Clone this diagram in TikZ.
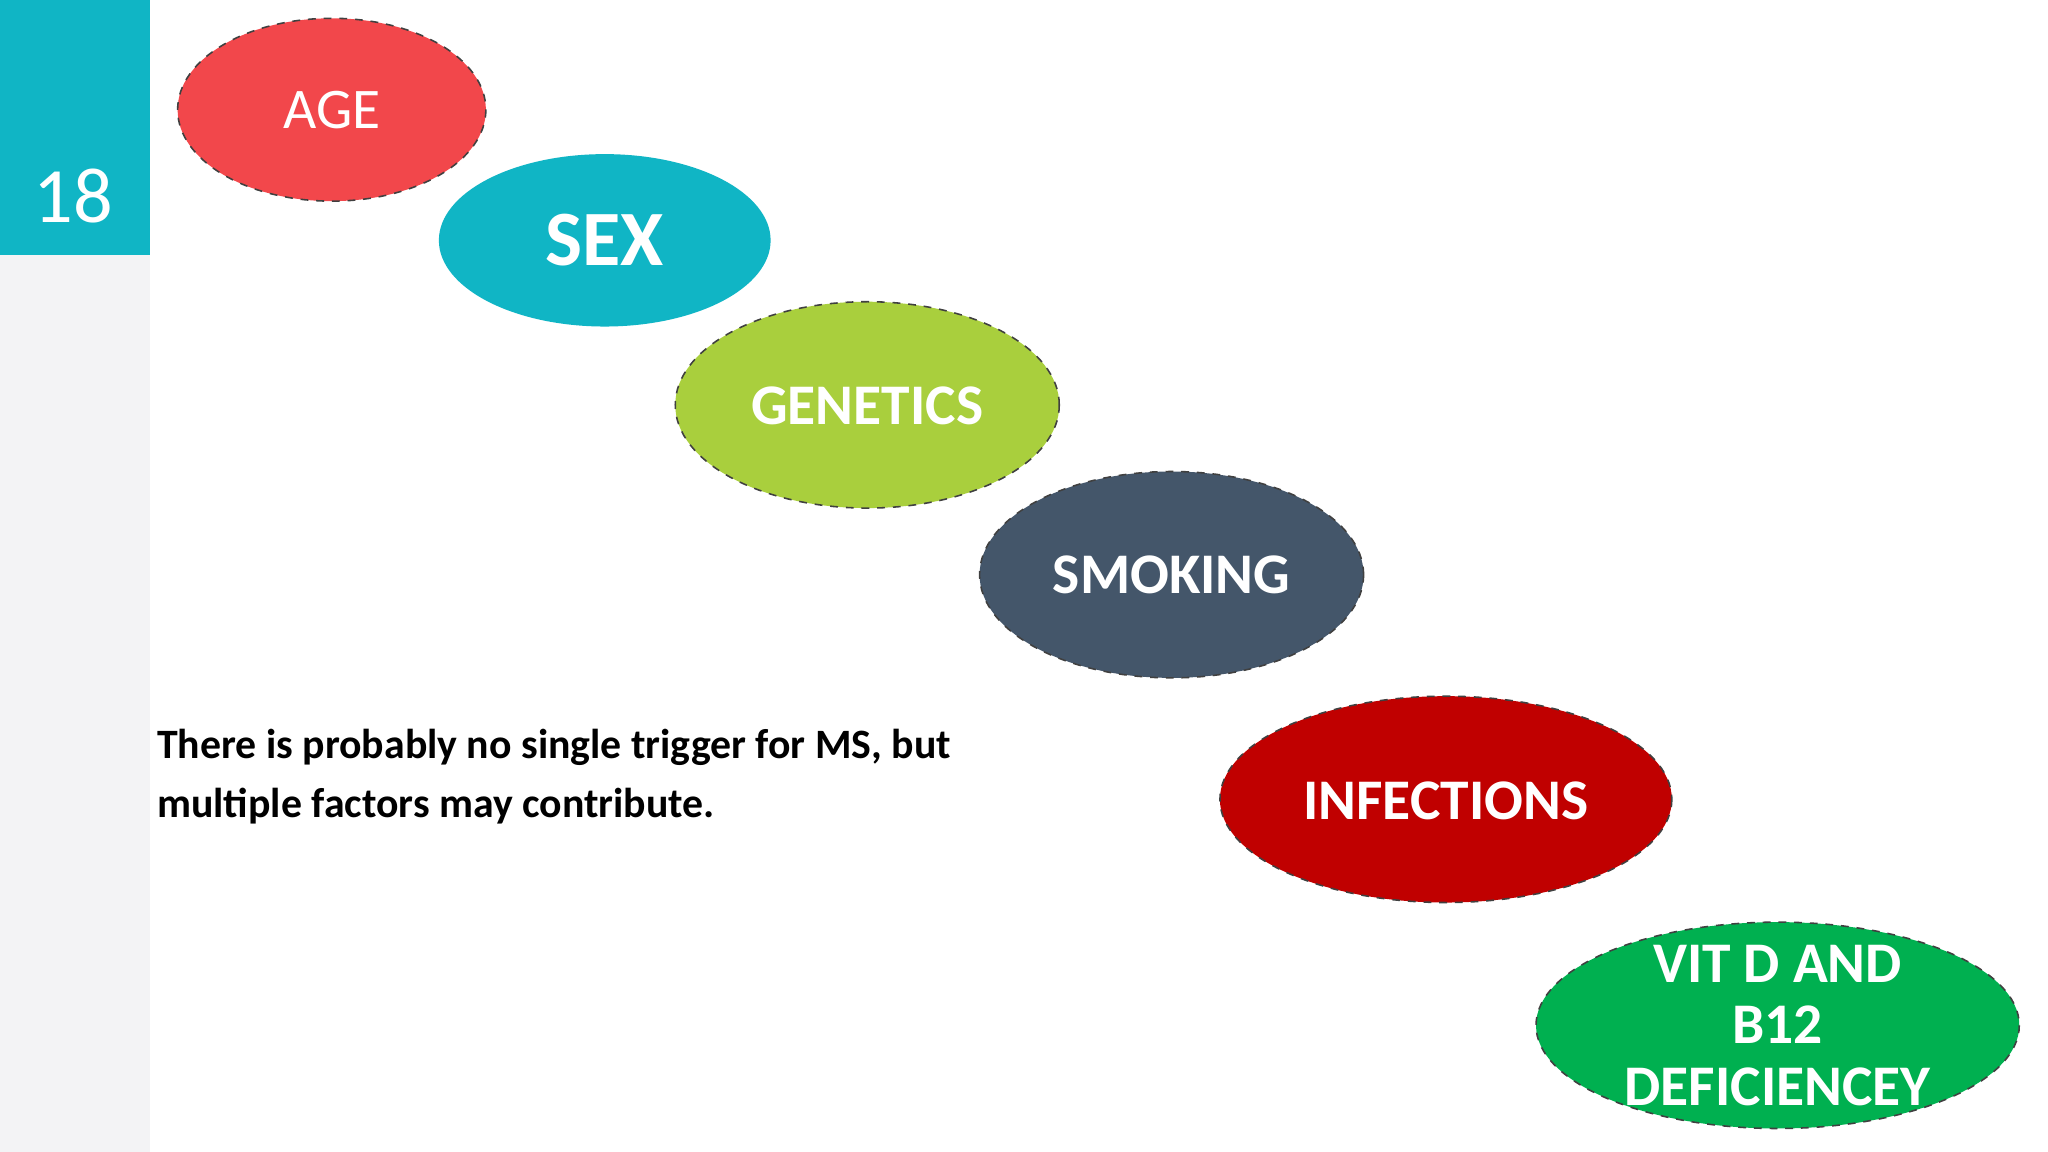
\documentclass[tikz,border=0pt]{standalone}
\usepackage{fontspec}
\setmainfont{Carlito}
\definecolor{teal1}{HTML}{10B5C5}
\definecolor{red1}{HTML}{F2474B}
\definecolor{green1}{HTML}{A9CF3D}
\definecolor{slate1}{HTML}{44566A}
\definecolor{dred}{HTML}{C00000}
\definecolor{green2}{HTML}{00B050}
\definecolor{strip}{HTML}{F3F3F5}
\begin{document}
\begin{tikzpicture}[x=0.5pt,y=-0.5pt,
  blob/.style={draw=black!75,dashed,line width=0.6pt},
  lbl/.style={text=white,font=\bfseries\fontsize{22}{24}\selectfont,align=center}]
\useasboundingbox (0,0) rectangle (1568,882);
\fill[white] (0,0) rectangle (1568,882);
\fill[strip] (0,0) rectangle (115,882);
\fill[teal1] (0,0) rectangle (115,195);
\node[text=white,font=\fontsize{30}{32}\selectfont] (num) at (56,150) {18};
\filldraw[blob,fill=red1] (254,84) ellipse [x radius=118,y radius=70];
\node[text=white,font=\fontsize{22}{24}\selectfont] (age) at (254,84) {AGE};
\fill[teal1] (463,184) ellipse [x radius=127,y radius=66];
\node[lbl,font=\bfseries\fontsize{30}{32}\selectfont] (sex) at (463,184) {SEX};
\filldraw[blob,fill=green1] (664,310) ellipse [x radius=147,y radius=79];
\node[lbl] (gen) at (664,311) {GENETICS};
\filldraw[blob,fill=slate1] (897,440) ellipse [x radius=147,y radius=79];
\node[lbl] (smk) at (897,440) {SMOKING};
\filldraw[blob,fill=dred] (1107,612) ellipse [x radius=173,y radius=79];
\node[lbl] (inf) at (1107,613) {INFECTIONS};
\filldraw[blob,fill=green2] (1361,785) ellipse [x radius=185,y radius=79];
\node[lbl,font=\bfseries\fontsize{22}{23.5}\selectfont] (vit) at (1361,785) {VIT D AND\\B12\\DEFICIENCEY};
\node[anchor=north west,align=left,font=\bfseries\fontsize{16}{22.5}\selectfont,inner sep=0pt] (txt) at (120,558)
 {There is probably no single trigger for MS, but\\multiple factors may contribute.};
\end{tikzpicture}
\end{document}
